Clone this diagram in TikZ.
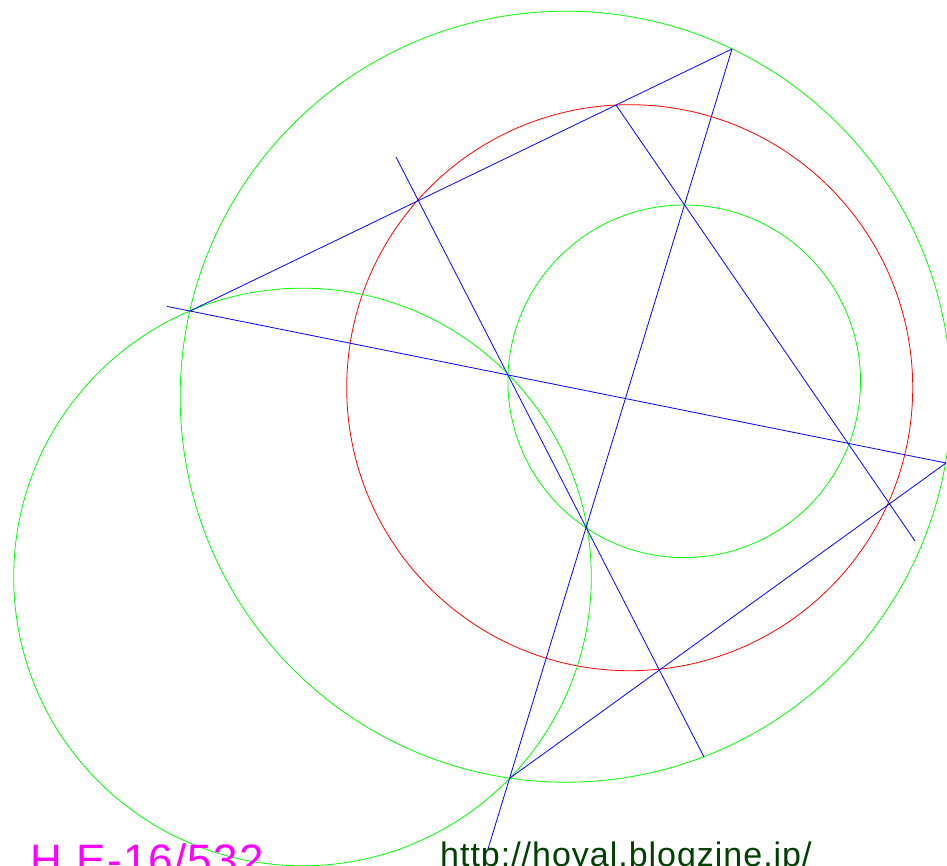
\documentclass[tikz,border=0pt]{standalone}
\usepackage{fontspec}
\setmainfont{Liberation Sans}
\definecolor{urlgreen}{RGB}{0,64,0}
\definecolor{stampmag}{RGB}{255,0,255}
\tikzset{
  gcirc/.style={
    draw=green,
    line width=0.8pt
  },
  rcirc/.style={
    draw=red,
    line width=0.8pt
  },
  bline/.style={
    draw=blue,
    line width=0.8pt
  },
  stamp/.style={
    text=stampmag,
    inner sep=0pt,
    anchor=base west,
    font=\fontsize{44}{44}\selectfont\addfontfeature{LetterSpace=2.8}
  },
  weblink/.style={
    text=urlgreen,
    inner sep=0pt,
    anchor=base west,
    font=\fontsize{34}{34}\selectfont\addfontfeature{LetterSpace=2.9}
  }
}

\begin{document}
\begin{tikzpicture}[x=1pt,y=-1pt]
            \useasboundingbox (0,0) rectangle (947,865);
            % centres of the circles
            \coordinate (oBig) at (565.7,396.7);
            \coordinate (oRed) at (629.7,387.7);
            \coordinate (oSmall) at (684.2,381.3);
            \coordinate (oLow) at (302.5,577.0);
            % corners of the quadrilateral
            \coordinate (A) at (190,311);
            \coordinate (B) at (732,49);
            \coordinate (C) at (946,463);
            \coordinate (D) at (510,778);
            % free ends of the lines
            \coordinate (Aout) at (167,306.4);
            \coordinate (Dout) at (488,849);
            \coordinate (Etop) at (396,157);
            \coordinate (Ebot) at (704,757);
            \coordinate (H) at (616,105);
            \coordinate (Hbot) at (915,541);
            \draw[gcirc] (oBig) circle[radius=385.5pt];
            \draw[rcirc] (oRed) circle[radius=283pt];
            \draw[gcirc] (oSmall) circle[radius=176.3pt];
            \draw[gcirc] (oLow) circle[radius=288.8pt];
            \draw[bline] (A) -- (B);
            \draw[bline] (B) -- (Dout);
            \draw[bline] (D) -- (C);
            \draw[bline] (Aout) -- (C);
            \draw[bline] (Etop) -- (Ebot);
            \draw[bline] (H) -- (Hbot);
            \node[stamp] (date) at (30,875) {H.E-16/532};
            \node[weblink] (site) at (440,866) {http://hoyal.blogzine.jp/};
        \end{tikzpicture}
\end{document}
